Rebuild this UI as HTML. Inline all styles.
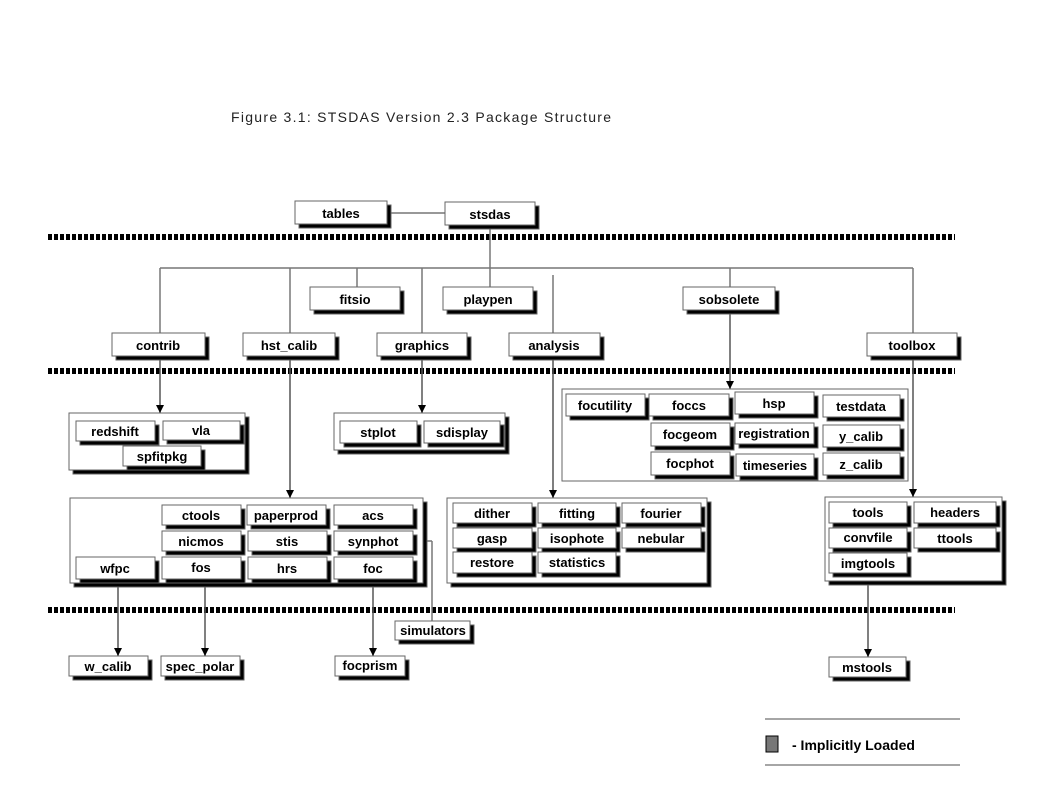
<!DOCTYPE html>
<html><head><meta charset="utf-8"><style>
body{margin:0;background:#fff}
svg text{font-family:"Liberation Sans",sans-serif}
.l{font-weight:bold;font-size:13px;text-anchor:middle;fill:#000}
</style></head><body>
<svg width="1060" height="780" xmlns="http://www.w3.org/2000/svg">
<defs>
<marker id="a" markerWidth="8" markerHeight="8" refX="8" refY="4" orient="auto" markerUnits="userSpaceOnUse"><path d="M0,0 L8,4 L0,8 Z" fill="#000"/></marker>
</defs>
<text x="231" y="122" font-size="14" fill="#222" textLength="380" lengthAdjust="spacing">Figure 3.1:  STSDAS Version 2.3 Package Structure</text>
<g stroke="#000" stroke-width="6" stroke-dasharray="4 2">
<line x1="48" y1="237" x2="955" y2="237"/>
<line x1="48" y1="371" x2="955" y2="371"/>
<line x1="48" y1="610" x2="955" y2="610"/>
</g>
<g stroke="#777" stroke-width="1.5" fill="none">
<line x1="387" y1="213" x2="445" y2="213"/>
<line x1="490" y1="225" x2="490" y2="287"/>
<line x1="160" y1="268" x2="913" y2="268"/>
<line x1="160" y1="268" x2="160" y2="333"/>
<line x1="290" y1="268" x2="290" y2="333"/>
<line x1="357" y1="268" x2="357" y2="287"/>
<line x1="422" y1="268" x2="422" y2="333"/>
<line x1="553" y1="275" x2="553" y2="333"/>
<line x1="730" y1="268" x2="730" y2="287"/>
<line x1="913" y1="268" x2="913" y2="333"/>
<line x1="413" y1="541" x2="432" y2="541"/><line x1="432" y1="541" x2="432" y2="621"/>
</g>
<g stroke="#555" stroke-width="1.5" marker-end="url(#a)">
<line x1="160" y1="356" x2="160" y2="413"/>
<line x1="422" y1="356" x2="422" y2="413"/>
<line x1="730" y1="310" x2="730" y2="389"/>
<line x1="290" y1="356" x2="290" y2="498"/>
<line x1="553" y1="356" x2="553" y2="498"/>
<line x1="913" y1="356" x2="913" y2="497"/>
<line x1="118" y1="579" x2="118" y2="656"/>
<line x1="205" y1="579" x2="205" y2="656"/>
<line x1="373" y1="579" x2="373" y2="656"/>
<line x1="868" y1="573" x2="868" y2="657"/>
</g>
<g stroke="#666" stroke-width="1">
<rect x="73" y="417" width="176" height="57" fill="#000"/><rect x="69" y="413" width="176" height="57" fill="#fff"/>
<rect x="338" y="417" width="171" height="37" fill="#000"/><rect x="334" y="413" width="171" height="37" fill="#fff"/>
<rect x="562" y="389" width="346" height="92" fill="#fff"/>
<rect x="74" y="502" width="353" height="85" fill="#000"/><rect x="70" y="498" width="353" height="85" fill="#fff"/>
<rect x="451" y="502" width="260" height="85" fill="#000"/><rect x="447" y="498" width="260" height="85" fill="#fff"/>
<rect x="829" y="501" width="177" height="84" fill="#000"/><rect x="825" y="497" width="177" height="84" fill="#fff"/>
</g>
<g stroke="#666" stroke-width="1">
<rect x="299" y="205" width="92" height="23" fill="#000"/><rect x="295" y="201" width="92" height="23" fill="#fff"/>
<rect x="449" y="206" width="90" height="23" fill="#000"/><rect x="445" y="202" width="90" height="23" fill="#fff"/>
<rect x="314" y="291" width="90" height="23" fill="#000"/><rect x="310" y="287" width="90" height="23" fill="#fff"/>
<rect x="447" y="291" width="90" height="23" fill="#000"/><rect x="443" y="287" width="90" height="23" fill="#fff"/>
<rect x="687" y="291" width="92" height="23" fill="#000"/><rect x="683" y="287" width="92" height="23" fill="#fff"/>
<rect x="116" y="337" width="93" height="23" fill="#000"/><rect x="112" y="333" width="93" height="23" fill="#fff"/>
<rect x="247" y="337" width="92" height="23" fill="#000"/><rect x="243" y="333" width="92" height="23" fill="#fff"/>
<rect x="381" y="337" width="90" height="23" fill="#000"/><rect x="377" y="333" width="90" height="23" fill="#fff"/>
<rect x="513" y="337" width="91" height="23" fill="#000"/><rect x="509" y="333" width="91" height="23" fill="#fff"/>
<rect x="871" y="337" width="90" height="23" fill="#000"/><rect x="867" y="333" width="90" height="23" fill="#fff"/>
<rect x="80" y="425" width="79" height="20" fill="#000"/><rect x="76" y="421" width="79" height="20" fill="#fff"/>
<rect x="167" y="425" width="77" height="19" fill="#000"/><rect x="163" y="421" width="77" height="19" fill="#fff"/>
<rect x="127" y="450" width="78" height="20" fill="#000"/><rect x="123" y="446" width="78" height="20" fill="#fff"/>
<rect x="344" y="425" width="77" height="22" fill="#000"/><rect x="340" y="421" width="77" height="22" fill="#fff"/>
<rect x="428" y="425" width="76" height="22" fill="#000"/><rect x="424" y="421" width="76" height="22" fill="#fff"/>
<rect x="570" y="398" width="79" height="22" fill="#000"/><rect x="566" y="394" width="79" height="22" fill="#fff"/>
<rect x="653" y="398" width="80" height="22" fill="#000"/><rect x="649" y="394" width="80" height="22" fill="#fff"/>
<rect x="739" y="396" width="79" height="22" fill="#000"/><rect x="735" y="392" width="79" height="22" fill="#fff"/>
<rect x="827" y="399" width="77" height="22" fill="#000"/><rect x="823" y="395" width="77" height="22" fill="#fff"/>
<rect x="655" y="427" width="79" height="23" fill="#000"/><rect x="651" y="423" width="79" height="23" fill="#fff"/>
<rect x="739" y="427" width="79" height="21" fill="#000"/><rect x="735" y="423" width="79" height="21" fill="#fff"/>
<rect x="827" y="429" width="77" height="22" fill="#000"/><rect x="823" y="425" width="77" height="22" fill="#fff"/>
<rect x="655" y="456" width="79" height="23" fill="#000"/><rect x="651" y="452" width="79" height="23" fill="#fff"/>
<rect x="740" y="458" width="78" height="22" fill="#000"/><rect x="736" y="454" width="78" height="22" fill="#fff"/>
<rect x="827" y="457" width="77" height="22" fill="#000"/><rect x="823" y="453" width="77" height="22" fill="#fff"/>
<rect x="166" y="509" width="79" height="20" fill="#000"/><rect x="162" y="505" width="79" height="20" fill="#fff"/>
<rect x="251" y="509" width="79" height="20" fill="#000"/><rect x="247" y="505" width="79" height="20" fill="#fff"/>
<rect x="338" y="509" width="79" height="20" fill="#000"/><rect x="334" y="505" width="79" height="20" fill="#fff"/>
<rect x="166" y="535" width="79" height="20" fill="#000"/><rect x="162" y="531" width="79" height="20" fill="#fff"/>
<rect x="252" y="535" width="79" height="20" fill="#000"/><rect x="248" y="531" width="79" height="20" fill="#fff"/>
<rect x="338" y="535" width="79" height="20" fill="#000"/><rect x="334" y="531" width="79" height="20" fill="#fff"/>
<rect x="80" y="561" width="79" height="22" fill="#000"/><rect x="76" y="557" width="79" height="22" fill="#fff"/>
<rect x="166" y="561" width="79" height="22" fill="#000"/><rect x="162" y="557" width="79" height="22" fill="#fff"/>
<rect x="252" y="561" width="79" height="22" fill="#000"/><rect x="248" y="557" width="79" height="22" fill="#fff"/>
<rect x="338" y="561" width="79" height="22" fill="#000"/><rect x="334" y="557" width="79" height="22" fill="#fff"/>
<rect x="457" y="507" width="79" height="20" fill="#000"/><rect x="453" y="503" width="79" height="20" fill="#fff"/>
<rect x="542" y="507" width="78" height="20" fill="#000"/><rect x="538" y="503" width="78" height="20" fill="#fff"/>
<rect x="626" y="507" width="79" height="20" fill="#000"/><rect x="622" y="503" width="79" height="20" fill="#fff"/>
<rect x="457" y="532" width="79" height="20" fill="#000"/><rect x="453" y="528" width="79" height="20" fill="#fff"/>
<rect x="542" y="532" width="78" height="20" fill="#000"/><rect x="538" y="528" width="78" height="20" fill="#fff"/>
<rect x="626" y="532" width="79" height="20" fill="#000"/><rect x="622" y="528" width="79" height="20" fill="#fff"/>
<rect x="457" y="556" width="79" height="21" fill="#000"/><rect x="453" y="552" width="79" height="21" fill="#fff"/>
<rect x="542" y="556" width="78" height="21" fill="#000"/><rect x="538" y="552" width="78" height="21" fill="#fff"/>
<rect x="833" y="506" width="78" height="21" fill="#000"/><rect x="829" y="502" width="78" height="21" fill="#fff"/>
<rect x="918" y="506" width="82" height="21" fill="#000"/><rect x="914" y="502" width="82" height="21" fill="#fff"/>
<rect x="833" y="532" width="78" height="20" fill="#000"/><rect x="829" y="528" width="78" height="20" fill="#fff"/>
<rect x="918" y="532" width="82" height="20" fill="#000"/><rect x="914" y="528" width="82" height="20" fill="#fff"/>
<rect x="833" y="557" width="78" height="20" fill="#000"/><rect x="829" y="553" width="78" height="20" fill="#fff"/>
<rect x="399" y="625" width="75" height="19" fill="#000"/><rect x="395" y="621" width="75" height="19" fill="#fff"/>
<rect x="73" y="660" width="79" height="20" fill="#000"/><rect x="69" y="656" width="79" height="20" fill="#fff"/>
<rect x="165" y="660" width="79" height="20" fill="#000"/><rect x="161" y="656" width="79" height="20" fill="#fff"/>
<rect x="339" y="660" width="70" height="20" fill="#000"/><rect x="335" y="656" width="70" height="20" fill="#fff"/>
<rect x="833" y="661" width="77" height="20" fill="#000"/><rect x="829" y="657" width="77" height="20" fill="#fff"/>
</g>
<g class="l">
<text x="341" y="218" class="l">tables</text>
<text x="490" y="219" class="l">stsdas</text>
<text x="355" y="304" class="l">fitsio</text>
<text x="488" y="304" class="l">playpen</text>
<text x="729" y="304" class="l">sobsolete</text>
<text x="158" y="350" class="l">contrib</text>
<text x="289" y="350" class="l">hst_calib</text>
<text x="422" y="350" class="l">graphics</text>
<text x="554" y="350" class="l">analysis</text>
<text x="912" y="350" class="l">toolbox</text>
<text x="115" y="436" class="l">redshift</text>
<text x="201" y="435" class="l">vla</text>
<text x="162" y="461" class="l">spfitpkg</text>
<text x="378" y="437" class="l">stplot</text>
<text x="462" y="437" class="l">sdisplay</text>
<text x="605" y="410" class="l">focutility</text>
<text x="689" y="410" class="l">foccs</text>
<text x="774" y="408" class="l">hsp</text>
<text x="861" y="411" class="l">testdata</text>
<text x="690" y="439" class="l">focgeom</text>
<text x="774" y="438" class="l">registration</text>
<text x="861" y="441" class="l">y_calib</text>
<text x="690" y="468" class="l">focphot</text>
<text x="775" y="470" class="l">timeseries</text>
<text x="861" y="469" class="l">z_calib</text>
<text x="201" y="520" class="l">ctools</text>
<text x="286" y="520" class="l">paperprod</text>
<text x="373" y="520" class="l">acs</text>
<text x="201" y="546" class="l">nicmos</text>
<text x="287" y="546" class="l">stis</text>
<text x="373" y="546" class="l">synphot</text>
<text x="115" y="573" class="l">wfpc</text>
<text x="201" y="572" class="l">fos</text>
<text x="287" y="573" class="l">hrs</text>
<text x="373" y="573" class="l">foc</text>
<text x="492" y="518" class="l">dither</text>
<text x="577" y="518" class="l">fitting</text>
<text x="661" y="518" class="l">fourier</text>
<text x="492" y="543" class="l">gasp</text>
<text x="577" y="543" class="l">isophote</text>
<text x="661" y="543" class="l">nebular</text>
<text x="492" y="567" class="l">restore</text>
<text x="577" y="567" class="l">statistics</text>
<text x="868" y="517" class="l">tools</text>
<text x="955" y="517" class="l">headers</text>
<text x="868" y="542" class="l">convfile</text>
<text x="955" y="543" class="l">ttools</text>
<text x="868" y="568" class="l">imgtools</text>
<text x="433" y="635" class="l">simulators</text>
<text x="108" y="671" class="l">w_calib</text>
<text x="200" y="671" class="l">spec_polar</text>
<text x="370" y="670" class="l">focprism</text>
<text x="867" y="672" class="l">mstools</text>
</g>
<line x1="765" y1="719" x2="960" y2="719" stroke="#888" stroke-width="1.5"/>
<line x1="765" y1="765" x2="960" y2="765" stroke="#888" stroke-width="1.5"/>
<rect x="766" y="736" width="12" height="16" fill="#777" stroke="#000" stroke-width="1"/>
<text x="792" y="750" font-size="14" font-weight="bold">- Implicitly Loaded</text>
</svg>
</body></html>
